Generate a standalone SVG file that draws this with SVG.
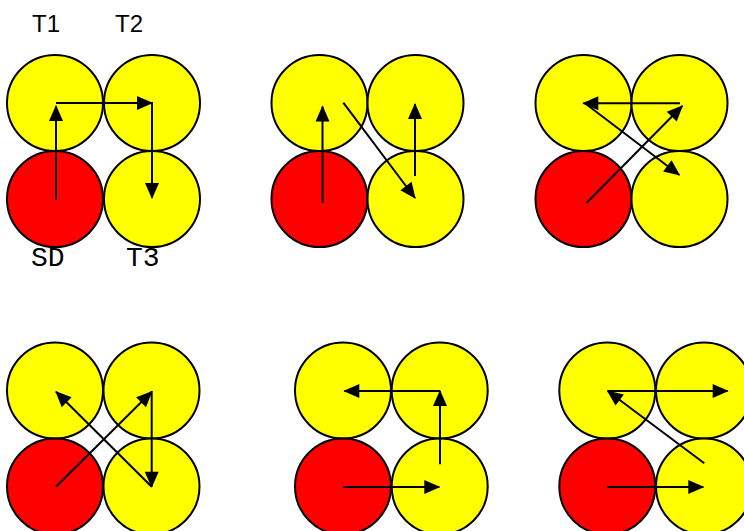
<svg xmlns="http://www.w3.org/2000/svg" width="744" height="531" viewBox="0 0 744 531">
<style>
.y{fill:#ffff00;stroke:#000;stroke-width:2}
.r{fill:#ff0000;stroke:#000;stroke-width:2}
.a{stroke:#000;stroke-width:2;fill:none;marker-end:url(#ah)}
.lab{font-family:"Liberation Sans",Arial,sans-serif;font-size:24px;fill:#000}
.mono{font-family:"Liberation Mono","Courier New",monospace;font-size:28px;fill:#000}
</style>
<defs>
<marker id="ah" markerUnits="userSpaceOnUse" markerWidth="16" markerHeight="14" refX="15" refY="7" orient="auto" overflow="visible">
<path d="M0,0 L16,7 L0,14 z" fill="#000"/>
</marker>
</defs>
<rect width="744" height="531" fill="#fff"/>
<g id="labels">
<text class="lab" x="32" y="32">T1</text>
<text class="lab" x="115" y="32">T2</text>
<text class="mono" x="31" y="266">SD</text>
<text class="mono" x="126" y="266">T3</text>
</g>
<g id="set1">
<g id="s1-t1"><circle class="y" cx="55" cy="103" r="48"/></g>
<g id="s1-t2"><circle class="y" cx="152" cy="103" r="48"/></g>
<g id="s1-sd"><circle class="r" cx="55" cy="199" r="48"/></g>
<g id="s1-t3"><circle class="y" cx="152" cy="199" r="48"/></g>
</g>
<g id="set2">
<g id="s2-t1"><circle class="y" cx="319.5" cy="103" r="48"/></g>
<g id="s2-t2"><circle class="y" cx="415.5" cy="103" r="48"/></g>
<g id="s2-sd"><circle class="r" cx="319.5" cy="199" r="48"/></g>
<g id="s2-t3"><circle class="y" cx="415.5" cy="199" r="48"/></g>
</g>
<g id="set3">
<g id="s3-t1"><circle class="y" cx="583.5" cy="103" r="48"/></g>
<g id="s3-t2"><circle class="y" cx="679.5" cy="103" r="48"/></g>
<g id="s3-sd"><circle class="r" cx="583.5" cy="199" r="48"/></g>
<g id="s3-t3"><circle class="y" cx="679.5" cy="199" r="48"/></g>
</g>
<g id="set4">
<g id="s4-t1"><circle class="y" cx="55" cy="390.5" r="48"/></g>
<g id="s4-t2"><circle class="y" cx="151.5" cy="390.5" r="48"/></g>
<g id="s4-sd"><circle class="r" cx="55" cy="486.5" r="48"/></g>
<g id="s4-t3"><circle class="y" cx="151.5" cy="486.5" r="48"/></g>
</g>
<g id="set5">
<g id="s5-t1"><circle class="y" cx="343" cy="390.5" r="48"/></g>
<g id="s5-t2"><circle class="y" cx="439.7" cy="390.5" r="48"/></g>
<g id="s5-sd"><circle class="r" cx="343" cy="486.5" r="48"/></g>
<g id="s5-t3"><circle class="y" cx="439.7" cy="486.5" r="48"/></g>
</g>
<g id="set6">
<g id="s6-t1"><circle class="y" cx="607.3" cy="390.5" r="48"/></g>
<g id="s6-t2"><circle class="y" cx="704" cy="390.5" r="48"/></g>
<g id="s6-sd"><circle class="r" cx="607.3" cy="486.5" r="48"/></g>
<g id="s6-t3"><circle class="y" cx="704" cy="486.5" r="48"/></g>
</g>
<g id="connectors">
<line class="a" x1="56" y1="200" x2="56" y2="106"/>
<line class="a" x1="56" y1="103" x2="152" y2="103"/>
<line class="a" x1="152" y1="102" x2="152" y2="198"/>

<line class="a" x1="322.5" y1="203" x2="322.5" y2="106.5"/>
<line class="a" x1="415" y1="176" x2="415" y2="104"/>
<line class="a" x1="343.3" y1="102.7" x2="415" y2="198"/>

<line class="a" x1="680" y1="103.3" x2="583.3" y2="103.3"/>
<line class="a" x1="586.7" y1="202.7" x2="682.3" y2="106"/>
<line class="a" x1="585" y1="103.3" x2="679.3" y2="175"/>

<line class="a" x1="56" y1="486.7" x2="151.7" y2="391.7"/>
<line class="a" x1="151.7" y1="486.7" x2="56" y2="391.7"/>
<line class="a" x1="151.7" y1="391" x2="151.7" y2="486.7"/>

<line class="a" x1="343.3" y1="487" x2="439.3" y2="487"/>
<line class="a" x1="440" y1="464.3" x2="440" y2="391"/>
<line class="a" x1="440" y1="391" x2="344.3" y2="391"/>

<line class="a" x1="607.3" y1="391" x2="727.7" y2="391"/>
<line class="a" x1="607" y1="487" x2="703.3" y2="487"/>
<line class="a" x1="704.3" y1="463.3" x2="607.7" y2="391"/>
</g>
</svg>
